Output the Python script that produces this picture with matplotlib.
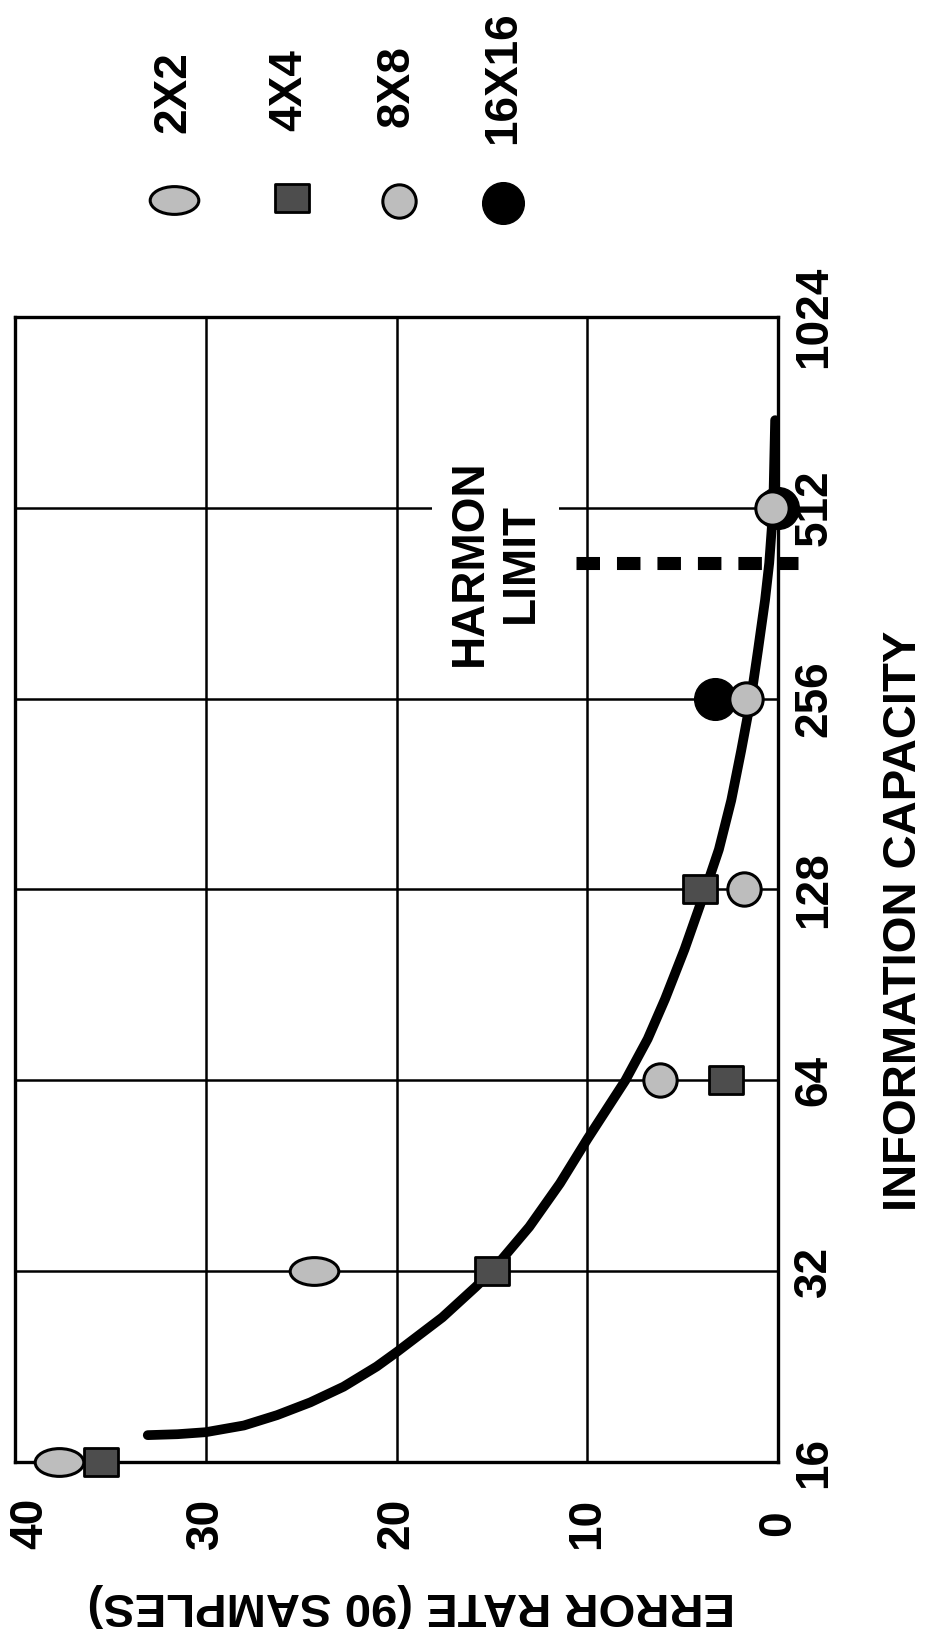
import matplotlib
matplotlib.use('agg')

import matplotlib.pyplot as plt
from matplotlib.path import Path
from matplotlib.ticker import NullLocator
from matplotlib.transforms import Affine2D, ScaledTranslation

plt.rcParams['font.family'] = ['Liberation Sans', 'DejaVu Sans']
plt.rcParams['font.weight'] = 'bold'

# axes
capacity_ticks = [16, 32, 64, 128, 256, 512, 1024]
error_ticks = [0, 10, 20, 30, 40]

# measured error rate for each cell size
series = ['2X2', '4X4', '8X8', '16X16']
cap_2x2 = [16, 32]
err_2x2 = [37.7, 24.3]
cap_4x4 = [16, 32, 64, 128]
err_4x4 = [35.5, 15.0, 2.7, 4.1]
cap_8x8 = [64, 128, 256, 512]
err_8x8 = [6.2, 1.8, 1.7, 0.3]
cap_16x16 = [256, 512]
err_16x16 = [3.3, 0.0]

# fitted trend curve
fit_cap = [17.64, 17.70, 17.83, 18.27, 18.97, 19.87, 21.03, 22.63, 23.90,
           27.05, 30.22, 32, 37.58, 44.01, 51.67, 64, 74.4, 86, 103, 123,
           148, 177, 212, 256, 305, 366, 419, 512, 704]
fit_err = [33.04, 31.48, 30.0, 28.0, 26.26, 24.52, 22.78, 21.04, 19.95,
           17.6, 15.85, 15.0, 13.04, 11.43, 10.0, 8.0, 6.83, 5.92, 4.9, 4.0,
           3.1, 2.45, 1.93, 1.42, 1.05, 0.68, 0.46, 0.25, 0.15]

# Harmon limit
harmon_cap = 419
harmon_err = [10.6, -1.05]

FS = 33

# marker shapes: flat ellipse and slightly wide box
ellipse = Path.unit_circle().transformed(Affine2D().scale(1.75, 1.0))
box = Path.unit_rectangle().transformed(
    Affine2D().translate(-0.5, -0.5).scale(1.23, 1.0))

styles = {
    '2X2': dict(marker=ellipse, ms=35, mfc='#bdbdbd', mec='black', mew=2.2),
    '4X4': dict(marker=box, ms=25, mfc='#4d4d4d', mec='black', mew=2.0),
    '8X8': dict(marker='o', ms=24, mfc='#bdbdbd', mec='black', mew=2.2),
    '16X16': dict(marker='o', ms=30, mfc='black', mec='black', mew=1.0),
}

fig = plt.figure(figsize=(9.33, 16.37), dpi=100)
ax = fig.add_axes([15 / 933, 175 / 1637, 763 / 933, 1145 / 1637])

ax.set_yscale('log', base=2)
ax.set_ylim(16, 1024)
ax.set_xlim(40, 0)
ax.yaxis.set_minor_locator(NullLocator())
ax.set_yticks(capacity_ticks)
ax.set_yticklabels([str(c) for c in capacity_ticks], rotation=90,
                   ha='center', va='center', fontsize=FS)
ax.set_xticks(error_ticks)
ax.set_xticklabels([str(e) for e in error_ticks], rotation=90,
                   ha='center', va='center', fontsize=FS)
ax.yaxis.tick_right()
ax.tick_params(length=0)
ax.tick_params(axis='y', pad=26)
ax.tick_params(axis='x', pad=44)
ax.grid(True, color='black', lw=1.8)
ax.set_axisbelow(True)
for s in ax.spines.values():
    s.set_linewidth(2.4)

# keep the "40" inside the page
lab40 = ax.get_xticklabels()[-1]
lab40.set_transform(lab40.get_transform() +
                    ScaledTranslation(0.15, 0, fig.dpi_scale_trans))

# curve and limit line
ax.plot(fit_err, fit_cap, color='black', lw=7, solid_capstyle='round',
        solid_joinstyle='round', zorder=3)
ax.plot(harmon_err, [harmon_cap, harmon_cap], color='black', lw=9.4,
        dashes=(1.8, 1.3), dash_capstyle='butt', zorder=4, clip_on=False)
ax.text(14.8, harmon_cap, 'HARMON\nLIMIT', rotation=90, ha='center',
        va='center', multialignment='center', fontsize=FS, linespacing=1.2,
        bbox=dict(boxstyle='square,pad=0.35', fc='white', ec='none'),
        zorder=2)

# data points (16X16 sits underneath 8X8)
data = [('2X2', err_2x2, cap_2x2), ('4X4', err_4x4, cap_4x4),
        ('16X16', err_16x16, cap_16x16), ('8X8', err_8x8, cap_8x8)]
for z, (name, e, c) in enumerate(data):
    ax.plot(e, c, ls='none', zorder=5 + z, clip_on=False, **styles[name])

# axis titles
fig.text(904 / 933, 1 - 921 / 1637, 'INFORMATION CAPACITY', rotation=90,
         ha='center', va='center', fontsize=34)
fig.text(411 / 933, 1 - 1605 / 1637, 'ERROR RATE (90 SAMPLES)', rotation=180,
         ha='center', va='center', fontsize=34)

# key
key_label_pos = [(173, 92), (289, 90), (396, 86), (503, 78)]
key_mark_pos = [(174, 200), (292, 198), (399, 201), (503, 203)]
for name, (lx, ly), (mx, my) in zip(series, key_label_pos, key_mark_pos):
    fig.text(lx / 933, 1 - ly / 1637, name, rotation=90, ha='center',
             va='center', fontsize=FS)
    ax.plot([mx / 933], [1 - my / 1637], transform=fig.transFigure,
            ls='none', clip_on=False, **styles[name])

fig.savefig('out.png', dpi=100, facecolor='white')
